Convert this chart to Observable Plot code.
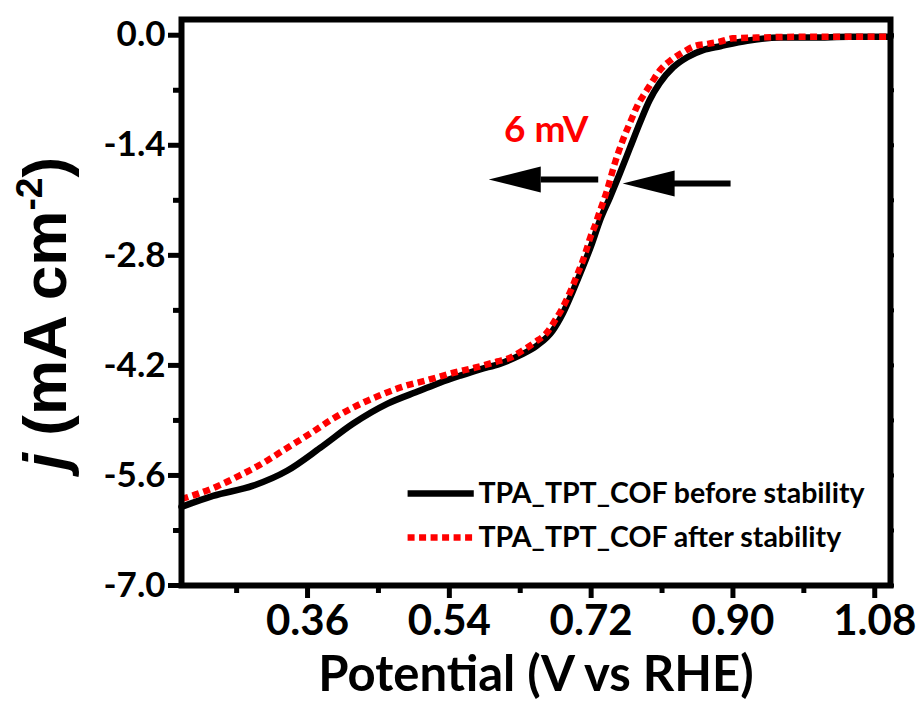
<!DOCTYPE html>
<html><head><meta charset="utf-8">
<script src="https://cdn.jsdelivr.net/npm/d3@7"></script>
<script src="https://cdn.jsdelivr.net/npm/@observablehq/plot@0.6"></script>
<style>body{margin:0;background:#fff}</style>
</head><body><div id="chart"></div>
<script>
// ---- data ----
const beforeV = [0.200, 0.240, 0.291, 0.334, 0.376, 0.418, 0.461, 0.503, 0.528, 0.554, 0.579, 0.604, 0.630, 0.651, 0.671, 0.684, 0.697, 0.709, 0.721, 0.731, 0.744, 0.756, 0.769, 0.782, 0.794, 0.807, 0.824, 0.842, 0.862, 0.884, 0.918, 0.960, 1.000, 1.048, 1.100];
const beforeJ = [-6.00, -5.86, -5.73, -5.54, -5.25, -4.94, -4.69, -4.52, -4.42, -4.33, -4.25, -4.18, -4.07, -3.95, -3.76, -3.54, -3.25, -2.96, -2.65, -2.36, -2.06, -1.77, -1.44, -1.11, -0.83, -0.61, -0.41, -0.28, -0.19, -0.14, -0.07, -0.03, -0.03, -0.02, -0.02];
const afterV = [0.200, 0.213, 0.245, 0.274, 0.304, 0.334, 0.363, 0.392, 0.423, 0.452, 0.481, 0.511, 0.543, 0.572, 0.601, 0.618, 0.633, 0.648, 0.664, 0.674, 0.683, 0.690, 0.697, 0.703, 0.709, 0.714, 0.719, 0.725, 0.730, 0.735, 0.740, 0.750, 0.760, 0.772, 0.779, 0.788, 0.797, 0.807, 0.822, 0.836, 0.851, 0.868, 0.884, 0.900, 0.930, 0.985, 1.100];
const afterJ = [-5.90, -5.86, -5.74, -5.60, -5.44, -5.25, -5.07, -4.88, -4.71, -4.58, -4.47, -4.39, -4.30, -4.23, -4.15, -4.10, -4.01, -3.91, -3.78, -3.63, -3.48, -3.34, -3.18, -3.03, -2.88, -2.73, -2.57, -2.42, -2.27, -2.13, -1.98, -1.63, -1.34, -1.05, -0.89, -0.74, -0.60, -0.45, -0.31, -0.22, -0.14, -0.11, -0.08, -0.04, -0.03, -0.02, -0.02];

const seriesNames = ["TPA_TPT_COF before stability", "TPA_TPT_COF after stability"];

const xTicks = [0.36, 0.54, 0.72, 0.90, 1.08];
const xTickLabels = ["0.36", "0.54", "0.72", "0.90", "1.08"];
const xMinor = [0.27, 0.45, 0.63, 0.81, 0.99];
const yTicks = [0.0, -1.4, -2.8, -4.2, -5.6, -7.0];
const yTickLabels = ["0.0", "-1.4", "-2.8", "-4.2", "-5.6", "-7.0"];
const yMinor = [-0.7, -2.1, -3.5, -4.9, -6.3];

const xTitle = "Potential (V vs RHE)";
const yTitle = "j (mA cm-2)";

// annotation (data coordinates)
const shiftLabel = [{v: 0.663, j: -1.21, text: "6 mV"}];
const arrows = [
  {tail: 0.729, base: 0.656, tip: 0.590, j: -1.836},
  {tail: 0.897, base: 0.825, tip: 0.760, j: -1.886}
];
const legendBefore = [{v1: 0.487, v2: 0.571, vText: 0.577, j: -5.83, name: seriesNames[0]}];
const legendAfter = [{v1: 0.487, v2: 0.571, vText: 0.577, j: -6.39, name: seriesNames[1]}];

// ---- build tables ----
const before = beforeV.map((v, i) => ({v, j: beforeJ[i]}));
const after = afterV.map((v, i) => ({v, j: afterJ[i]}));

const RED = "#ff0000";
const DOT = {stroke: RED, strokeWidth: 6.5, strokeDasharray: "7,4.5", strokeLinecap: "butt"};
const arrowHead = {draw(ctx) { ctx.moveTo(0, 0); ctx.lineTo(52, -13); ctx.lineTo(52, 13); ctx.closePath(); }};
const CAL = "Lato, 'Open Sans', sans-serif";
const TXT = {fontFamily: CAL, fontWeight: "bold", lineAnchor: "middle"};

const chart = Plot.plot({
  width: 917, height: 709,
  marginLeft: 181, marginRight: 27, marginTop: 19, marginBottom: 124,
  x: {domain: [0.2, 1.1]},
  y: {domain: [-7.0, 0.2]},
  style: {fontFamily: CAL, fontWeight: "bold", background: "white", color: "black"},
  marks: [
    // ticks
    Plot.axisX({ticks: xTicks, tickSize: 13, strokeWidth: 5, tickFormat: () => "", label: null}),
    Plot.axisX({ticks: xMinor, tickSize: 8, strokeWidth: 5, tickFormat: () => "", label: null}),
    Plot.axisX({anchor: "top", ticks: xTicks.concat(xMinor), tickSize: 3, strokeWidth: 4, tickFormat: () => "", label: null}),
    Plot.axisY({ticks: yTicks, tickSize: 13, strokeWidth: 5, tickFormat: () => "", label: null}),
    Plot.axisY({ticks: yMinor, tickSize: 8, strokeWidth: 5, tickFormat: () => "", label: null}),
    Plot.axisY({anchor: "right", ticks: yTicks.concat(yMinor), tickSize: 3, strokeWidth: 4, tickFormat: () => "", label: null}),
    // tick labels
    Plot.text(xTicks, {x: d => d, text: (d, i) => xTickLabels[i], frameAnchor: "bottom", dy: 36, fontSize: 42, letterSpacing: -1.5, ...TXT}),
    Plot.text(yTicks, {y: d => d, text: (d, i) => yTickLabels[i], frameAnchor: "left", dx: -16, textAnchor: "end", fontSize: 35, ...TXT}),
    // axis titles
    Plot.text([xTitle], {frameAnchor: "bottom", dy: 90, fontSize: 49, ...TXT}),
    Plot.text([yTitle], {frameAnchor: "left", dx: -135, dy: 11, rotate: -90, textAnchor: "middle", lineAnchor: "middle", fontSize: 62, fontFamily: "'Liberation Sans', Arial, sans-serif", fontWeight: "bold"}),
    // curves
    Plot.line(before, {x: "v", y: "j", stroke: "black", strokeWidth: 6.5, curve: "monotone-x"}),
    Plot.line(after, {x: "v", y: "j", curve: "monotone-x", ...DOT}),
    // legend
    Plot.link(legendBefore, {x1: "v1", x2: "v2", y1: "j", y2: "j", stroke: "black", strokeWidth: 6.5}),
    Plot.link(legendAfter, {x1: "v1", x2: "v2", y1: "j", y2: "j", ...DOT}),
    Plot.text(legendBefore.concat(legendAfter), {x: "vText", y: "j", text: "name", textAnchor: "start", fontSize: 28.5, ...TXT}),
    // annotation
    Plot.link(arrows, {x1: "tail", x2: "base", y1: "j", y2: "j", stroke: "black", strokeWidth: 6}),
    Plot.dot(arrows, {x: "tip", y: "j", symbol: arrowHead, fill: "black", stroke: "none", r: 10}),
    Plot.text(shiftLabel, {x: "v", y: "j", text: "text", fill: RED, fontSize: 37, ...TXT}),
    // frame
    Plot.frame({stroke: "black", strokeWidth: 6})
  ]
});

// y title: italic j + superscript
d3.select(chart).selectAll("text").filter(function() { return this.textContent === yTitle; }).each(function() {
  const t = d3.select(this);
  t.text(null);
  t.append("tspan").attr("font-style", "italic").text("j");
  t.append("tspan").text(" (mA cm");
  t.append("tspan").attr("font-size", "60%").attr("dy", -24).text("-2");
  t.append("tspan").attr("dy", 24).text(")");
});

document.getElementById("chart").appendChild(chart);
</script>
</body></html>
